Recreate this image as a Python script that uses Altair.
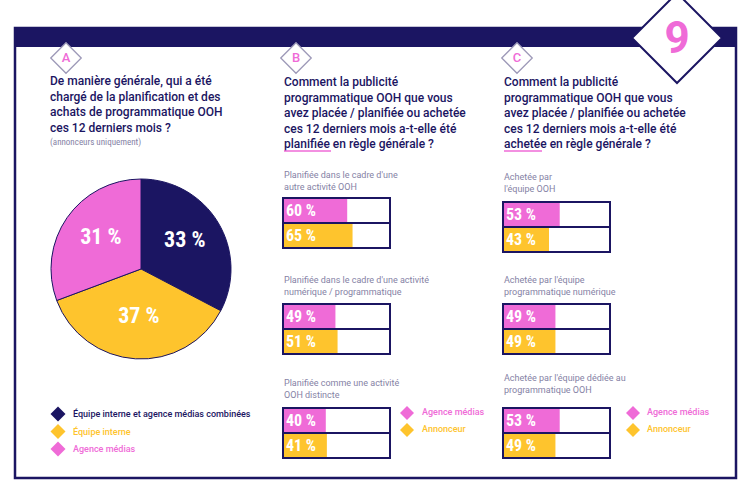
import altair as alt
import pandas as pd

# ---------------- data ----------------
pie_categories = ["Équipe interne et agence médias combinées", "Équipe interne", "Agence médias"]
pie_values = [33, 37, 31]

series_names = ["Agence médias", "Annonceur"]

plan_titles = [["Planifiée dans le cadre d'une", "autre activité OOH"],
               ["Planifiée dans le cadre d'une activité", "numérique / programmatique"],
               ["Planifiée comme une activité", "OOH distincte"]]
plan_agence = [60, 49, 40]
plan_annonceur = [65, 51, 41]

achat_titles = [["Achetée par", "l'équipe OOH"],
                ["Achetée par l'équipe", "programmatique numérique"],
                ["Achetée par l'équipe dédiée au", "programmatique OOH"]]
achat_agence = [53, 49, 53]
achat_annonceur = [43, 49, 49]

question_a = ["De manière générale, qui a été", "chargé de la planification et des",
              "achats de programmatique OOH", "ces 12 derniers mois ?"]
question_a_note = "(annonceurs uniquement)"
question_b = ["Comment la publicité", "programmatique OOH que vous",
              "avez placée / planifiée ou achetée", "ces 12 derniers mois a-t-elle été",
              "planifiée en règle générale ?"]
question_c = ["Comment la publicité", "programmatique OOH que vous",
              "avez placée / planifiée ou achetée", "ces 12 derniers mois a-t-elle été",
              "achetée en règle générale ?"]
page_number = "9"
section_letters = ["A", "B", "C"]

# ---------------- style / layout ----------------
W, H = 750, 484
NAVY = "#1b1562"
PINK = "#ef6bd7"
YELLOW = "#fec42d"
GREY = "#8582a5"
DIAM = "#9d99b8"
FONT = "Roboto"
NARROW = ("Roboto Condensed, Open Sans Condensed, Noto Sans Condensed, "
          "Liberation Sans Narrow, DejaVu Sans Condensed, sans-serif")

xs = alt.Scale(domain=[0, W], nice=False, zero=False)
ys = alt.Scale(domain=[0, H], nice=False, zero=False, reverse=True)


def X(f):
    return alt.X(f"{f}:Q", scale=xs, axis=None)


def Y(f):
    return alt.Y(f"{f}:Q", scale=ys, axis=None)


def col(f="color"):
    return alt.Color(f"{f}:N", scale=None)


def text_layer(df, size, weight="normal", font=FONT, align="left", baseline="middle"):
    return alt.Chart(df).mark_text(align=align, baseline=baseline, font=font,
                                   fontSize=size, fontWeight=weight).encode(
        x=X("x"), y=Y("y"), text="text:N", color=col())


layers = []

# frame
frame = pd.DataFrame([{"x": 15, "x2": 736, "y": 28, "y2": 478}])
layers.append(alt.Chart(frame).mark_rect(fill="white", stroke=NAVY, strokeWidth=2.5).encode(
    x=X("x"), x2="x2:Q", y=Y("y"), y2="y2:Q"))
band = pd.DataFrame([{"x": 15, "x2": 736, "y": 28, "y2": 47}])
layers.append(alt.Chart(band).mark_rect(color=NAVY).encode(
    x=X("x"), x2="x2:Q", y=Y("y"), y2="y2:Q"))

# big page diamond
big = pd.DataFrame([{"x": 677, "y": 38}])
layers.append(alt.Chart(big).mark_point(shape="diamond", filled=True, fill="white", stroke=NAVY,
                                        strokeWidth=2, size=8100, opacity=1).encode(x=X("x"), y=Y("y")))
layers.append(alt.Chart(pd.DataFrame([{"x": 677, "y": 53, "text": page_number, "color": PINK}]))
              .mark_text(align="center", baseline="alphabetic", font=FONT, fontSize=44, fontWeight="bold")
              .encode(x=X("x"), y=Y("y"), text="text:N", color=col()))

# section letters
col_x = [66, 296, 517]
letters = pd.DataFrame([{"x": cx, "y": 58, "text": l, "color": PINK} for cx, l in zip(col_x, section_letters)])
layers.append(alt.Chart(letters).mark_point(shape="diamond", filled=True, fill="white", stroke=DIAM,
                                            strokeWidth=1.3, size=930, opacity=1).encode(x=X("x"), y=Y("y")))
layers.append(text_layer(letters, 13, 500, align="center"))

# questions
qrows = []
for i, t in enumerate(question_a):
    qrows.append({"x": 50, "y": 81 + i * 15.5, "text": t, "color": NAVY})
for i, t in enumerate(question_b):
    qrows.append({"x": 284, "y": 82 + i * 15.5, "text": t, "color": NAVY})
for i, t in enumerate(question_c):
    qrows.append({"x": 504, "y": 82 + i * 15.5, "text": t, "color": NAVY})
layers.append(text_layer(pd.DataFrame(qrows), 12, 500))
layers.append(text_layer(pd.DataFrame([{"x": 50, "y": 142, "text": question_a_note, "color": GREY}]),
                         9, font=NARROW))
underline = pd.DataFrame([{"x": 284, "x2": 331, "y": 151}, {"x": 504, "x2": 542, "y": 151}])
layers.append(alt.Chart(underline).mark_rule(color=PINK, strokeWidth=1.5).encode(
    x=X("x"), x2="x2:Q", y=Y("y")))

# pie
pie_df = pd.DataFrame({"cat": pie_categories, "value": pie_values,
                       "order": list(range(len(pie_values))),
                       "color": [NAVY, YELLOW, PINK],
                       "label": [f"{v} %" for v in pie_values]})
PCX, PCY = 141, 269
layers.append(alt.Chart(pie_df).mark_arc(outerRadius=90, stroke=NAVY, strokeWidth=1).encode(
    theta=alt.Theta("value:Q", stack=True), order=alt.Order("order:Q"),
    color=col(), x=alt.value(PCX), y=alt.value(PCY)))
layers.append(alt.Chart(pie_df).mark_text(radius=50, font=NARROW, fontSize=22, fontWeight="bold",
                                          fill="white", align="center", baseline="middle").encode(
    theta=alt.Theta("value:Q", stack=True), order=alt.Order("order:Q"), detail="cat:N",
    text="label:N", x=alt.value(PCX + 1), y=alt.value(PCY - 3)))

# legends
leg_marks, leg_text = [], []
for i, (c, clr) in enumerate(zip(pie_categories, [NAVY, YELLOW, PINK])):
    y = 414 + i * 17.5
    leg_marks.append({"x": 58, "y": y, "color": clr, "size": 225})
    leg_text.append({"x": 73, "y": y, "text": c, "color": clr})
for lx, tx, ly in [(407, 422, 413), (633, 647, 413)]:
    for j, (s, clr) in enumerate(zip(series_names, [PINK, YELLOW])):
        y = ly + j * 17
        leg_marks.append({"x": lx, "y": y, "color": clr, "size": 196})
        leg_text.append({"x": tx, "y": y - 1, "text": s, "color": clr})
layers.append(alt.Chart(pd.DataFrame(leg_marks)).mark_point(shape="diamond", filled=True, opacity=1).encode(
    x=X("x"), y=Y("y"), color=col(), size=alt.Size("size:Q", scale=None)))
layers.append(text_layer(pd.DataFrame(leg_text), 9, 500))

# bar panels
BOX_W, ROW_H = 107, 25
panels = [
    (283, plan_titles, plan_agence, plan_annonceur, [198, 304, 408], [175, 280, 383]),
    (503, achat_titles, achat_agence, achat_annonceur, [202, 304, 408], [177, 280, 378]),
]
bars, subs = [], []
for x0, titles, ag, an, tops, tys in panels:
    for i in range(3):
        for k, line in enumerate(titles[i]):
            subs.append({"x": x0 + 1, "y": tys[i] + k * 12, "text": line, "color": GREY})
        for j, (vals, clr) in enumerate([(ag, PINK), (an, YELLOW)]):
            y0 = tops[i] + j * ROW_H
            bars.append({"x": x0, "x2": x0 + BOX_W, "y": y0, "y2": y0 + ROW_H,
                         "ymid": y0 + ROW_H / 2 + 0.5, "xl": x0 + 3,
                         "value": vals[i], "series": series_names[j], "color": clr,
                         "label": f"{vals[i]} %"})
bars_df = pd.DataFrame(bars)
layers.append(text_layer(pd.DataFrame(subs), 9, "normal"))
layers.append(alt.Chart(bars_df).mark_rect(fill="white").encode(
    x=X("x"), x2="x2:Q", y=Y("y"), y2="y2:Q"))
layers.append(alt.Chart(bars_df).transform_calculate(
    xend=f"datum.x + datum.value / 100 * {BOX_W}").mark_rect().encode(
    x=X("x"), x2="xend:Q", y=Y("y"), y2="y2:Q", color=col()))
layers.append(alt.Chart(bars_df).mark_rect(filled=False, color=NAVY, strokeWidth=2).encode(
    x=X("x"), x2="x2:Q", y=Y("y"), y2="y2:Q"))
layers.append(alt.Chart(bars_df).mark_text(align="left", baseline="middle", font=NARROW, fontSize=16,
                                           fontWeight="bold", color="white").encode(
    x=X("xl"), y=Y("ymid"), text="label:N"))

chart = alt.layer(*layers).properties(
    width=W, height=H, padding=0, autosize=alt.AutoSizeParams(type="none"),
    background="white").configure_view(stroke=None)

chart.save("out.html", embed_options={"renderer": "svg", "actions": False})
